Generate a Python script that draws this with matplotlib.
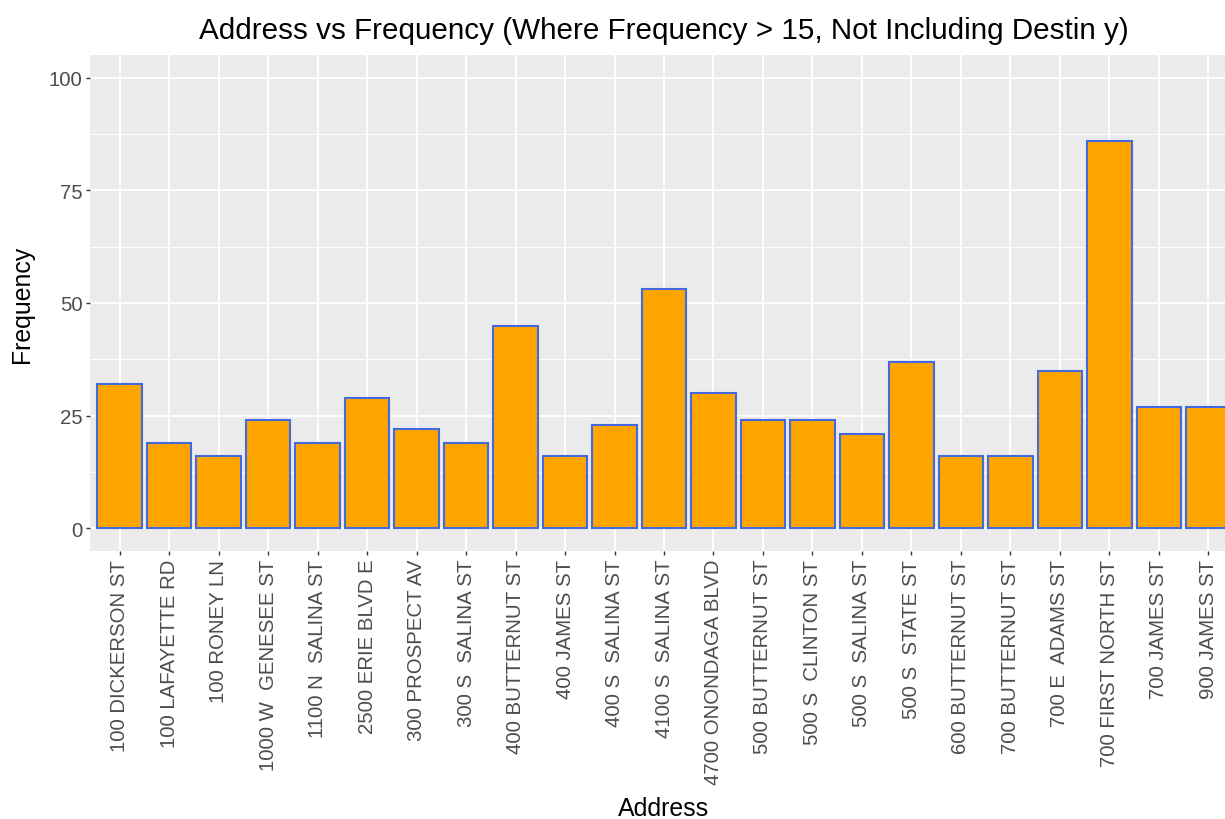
from matplotlib import pyplot as plt

plt.rcParams['font.family'] = ['Liberation Sans', 'DejaVu Sans']

# data
addresses = ["100 DICKERSON ST", "100 LAFAYETTE RD", "100 RONEY LN",
             "1000 W  GENESEE ST", "1100 N  SALINA ST", "2500 ERIE BLVD E",
             "300 PROSPECT AV", "300 S  SALINA ST", "400 BUTTERNUT ST",
             "400 JAMES ST", "400 S  SALINA ST", "4100 S  SALINA ST",
             "4700 ONONDAGA BLVD", "500 BUTTERNUT ST", "500 S  CLINTON ST",
             "500 S  SALINA ST", "500 S  STATE ST", "600 BUTTERNUT ST",
             "700 BUTTERNUT ST", "700 E  ADAMS ST", "700 FIRST NORTH ST",
             "700 JAMES ST", "900 JAMES ST"]
freq = [32, 19, 16, 24, 19, 29, 22, 19, 45, 16, 23, 53, 30, 24, 24,
        21, 37, 16, 16, 35, 86, 27, 27]
y_breaks = [0, 25, 50, 75, 100]

W, H = 1225, 820
fig = plt.figure(figsize=(W / 100, H / 100), dpi=100)

# panel: left 90px, top 56px, bottom 552px, runs past the right edge (to 1238px)
ax = fig.add_axes([90 / W, (H - 552) / H, (1238 - 90) / W, 496 / H])
ax.set_facecolor('#EBEBEB')
for s in ax.spines.values():
    s.set_visible(False)

x = list(range(len(addresses)))
ax.bar(x, freq, width=0.9, color='#FFA500', edgecolor='#4169E1',
       linewidth=1.5, zorder=3)

ax.set_xlim(-0.6, len(addresses) - 0.4)
ax.set_ylim(-5, 105)
ax.set_xticks(x)
ax.set_xticklabels(addresses, rotation=90, ha='center', va='top')
ax.set_yticks(y_breaks)
ax.set_yticks([12.5, 37.5, 62.5, 87.5], minor=True)

ax.grid(which='major', color='white', linewidth=1.4, zorder=0)
ax.grid(which='minor', axis='y', color='white', linewidth=0.7, zorder=0)
ax.set_axisbelow(True)

ax.tick_params(axis='both', which='major', length=3, width=1,
               color='#333333', labelcolor='#4D4D4D', labelsize=14.7, pad=2.5)
ax.tick_params(axis='y', which='minor', length=0)

ax.set_title("Address vs Frequency (Where Frequency > 15, Not Including Destin y)",
             fontsize=21.3, pad=12)
ax.set_xlabel("Address", fontsize=17.9)
ax.set_ylabel("Frequency", fontsize=17.9)
ax.xaxis.set_label_coords(0.5, -(809 - 552) / 496)
ax.xaxis.label.set_va('center')
ax.yaxis.set_label_coords(-(90 - 22) / 1148, 0.5)
ax.yaxis.label.set_va('center')

fig.savefig('out.png', dpi=100)
